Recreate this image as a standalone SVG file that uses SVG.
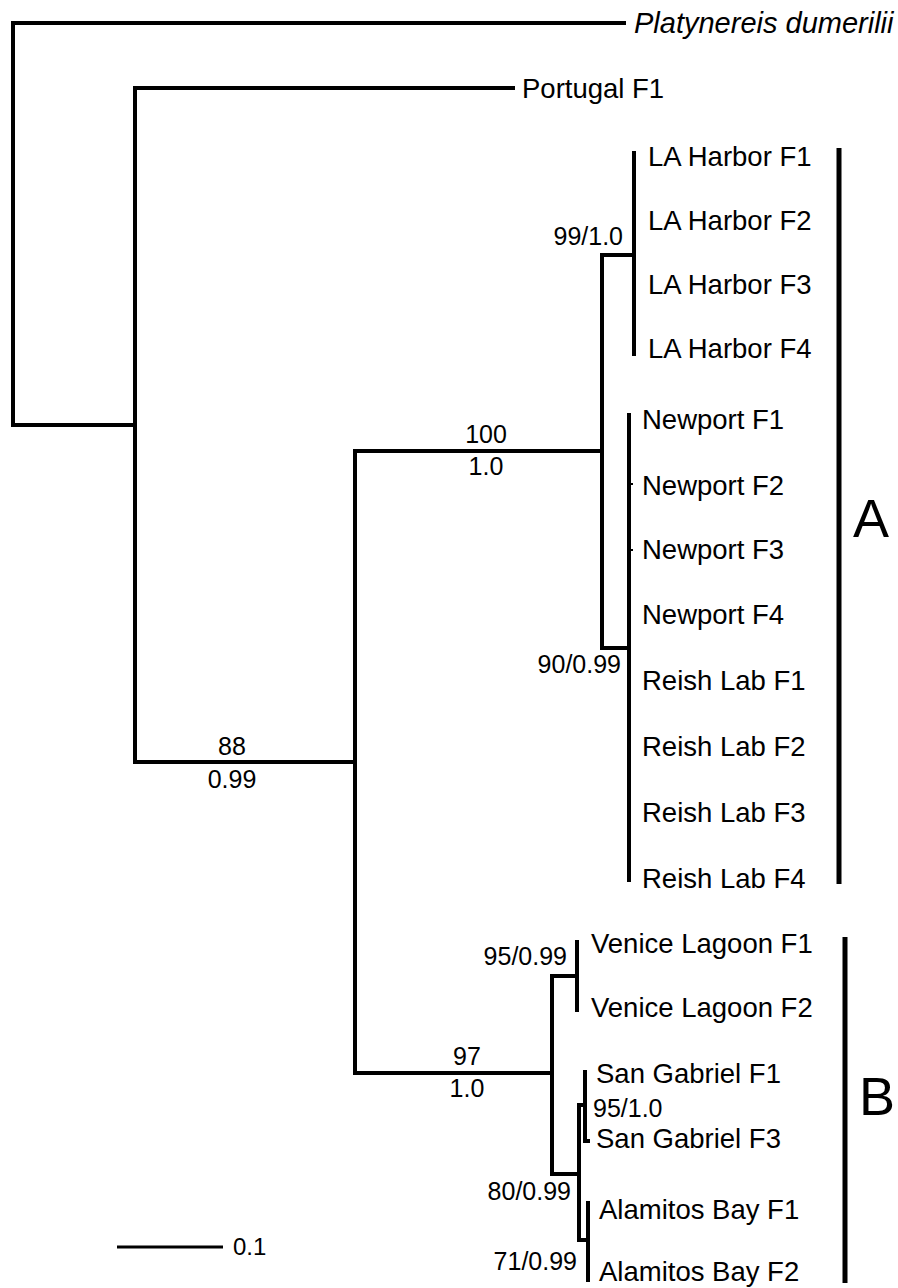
<svg xmlns="http://www.w3.org/2000/svg" width="898" height="1288" viewBox="0 0 898 1288">
<style>
.br{stroke:#000;stroke-width:4;fill:none;stroke-linecap:square}
.bar{stroke:#000;stroke-width:5;fill:none}
.leaf{font-family:"Liberation Sans",Arial,sans-serif;font-size:27.5px;fill:#000}
.it{font-style:italic;font-size:29px}
.sup{font-family:"Liberation Sans",Arial,sans-serif;font-size:25px;fill:#000}
.cl{font-family:"Liberation Sans",Arial,sans-serif;font-size:54px;fill:#000}
.sc{font-family:"Liberation Sans",Arial,sans-serif;font-size:24px;fill:#000}
</style>
<rect width="898" height="1288" fill="#fff"/>
<g id="connectors">
<path class="br" d="M624,23 H13 V425 H135"/>
<path class="br" d="M513,88 H135 V762 H355"/>
<path class="br" d="M602,451 H355 V1073 H552"/>
<path class="br" d="M634,255 H602 V648 H629"/>
<path class="br" d="M634,153 V354"/>
<path class="br" d="M629,415 V880"/>
<path d="M629,484 H633 M629,550 H633" stroke="#000" stroke-width="2"/>
<path class="br" d="M577,976 H552 V1174 H579"/>
<path class="br" d="M577,942 V1010"/>
<path class="br" d="M579,1105 V1240"/>
<path class="br" d="M579,1105 H585"/>
<path class="br" d="M585,1072 V1141 H588"/>
<path class="br" d="M579,1240 H588"/>
<path class="br" d="M588,1203 V1280"/>
</g>
<g id="taxon-platynereis"><text class="leaf it" x="634" y="33">Platynereis dumerilii</text></g>
<g id="taxon-portugal-f1"><text class="leaf" x="522" y="98">Portugal F1</text></g>
<g id="taxon-la-harbor-f1"><text class="leaf" x="648" y="166">LA Harbor F1</text></g>
<g id="taxon-la-harbor-f2"><text class="leaf" x="648" y="230">LA Harbor F2</text></g>
<g id="taxon-la-harbor-f3"><text class="leaf" x="648" y="294">LA Harbor F3</text></g>
<g id="taxon-la-harbor-f4"><text class="leaf" x="648" y="358">LA Harbor F4</text></g>
<g id="taxon-newport-f1"><text class="leaf" x="642" y="429">Newport F1</text></g>
<g id="taxon-newport-f2"><text class="leaf" x="642" y="495">Newport F2</text></g>
<g id="taxon-newport-f3"><text class="leaf" x="642" y="559">Newport F3</text></g>
<g id="taxon-newport-f4"><text class="leaf" x="642" y="624">Newport F4</text></g>
<g id="taxon-reish-lab-f1"><text class="leaf" x="642" y="690">Reish Lab F1</text></g>
<g id="taxon-reish-lab-f2"><text class="leaf" x="642" y="756">Reish Lab F2</text></g>
<g id="taxon-reish-lab-f3"><text class="leaf" x="642" y="822">Reish Lab F3</text></g>
<g id="taxon-reish-lab-f4"><text class="leaf" x="642" y="888">Reish Lab F4</text></g>
<g id="taxon-venice-lagoon-f1"><text class="leaf" x="591" y="953">Venice Lagoon F1</text></g>
<g id="taxon-venice-lagoon-f2"><text class="leaf" x="591" y="1017">Venice Lagoon F2</text></g>
<g id="taxon-san-gabriel-f1"><text class="leaf" x="596" y="1083">San Gabriel F1</text></g>
<g id="taxon-san-gabriel-f3"><text class="leaf" x="596" y="1148">San Gabriel F3</text></g>
<g id="taxon-alamitos-bay-f1"><text class="leaf" x="599" y="1219">Alamitos Bay F1</text></g>
<g id="taxon-alamitos-bay-f2"><text class="leaf" x="599" y="1281">Alamitos Bay F2</text></g>
<g id="support-labels">
<text class="sup" x="623" y="245" text-anchor="end">99/1.0</text>
<text class="sup" x="486" y="443" text-anchor="middle">100</text>
<text class="sup" x="486" y="475" text-anchor="middle">1.0</text>
<text class="sup" x="621" y="673" text-anchor="end">90/0.99</text>
<text class="sup" x="232" y="755" text-anchor="middle">88</text>
<text class="sup" x="232" y="788" text-anchor="middle">0.99</text>
<text class="sup" x="467" y="1065" text-anchor="middle">97</text>
<text class="sup" x="467" y="1097" text-anchor="middle">1.0</text>
<text class="sup" x="567" y="965" text-anchor="end">95/0.99</text>
<text class="sup" x="593" y="1117">95/1.0</text>
<text class="sup" x="571" y="1200" text-anchor="end">80/0.99</text>
<text class="sup" x="577" y="1270" text-anchor="end">71/0.99</text>
</g>
<g id="clade-A">
<path class="bar" d="M839,148 V884"/>
<text class="cl" x="853" y="537">A</text>
</g>
<g id="clade-B">
<path class="bar" d="M845,937 V1283"/>
<text class="cl" x="859" y="1115">B</text>
</g>
<g id="scale-bar">
<path d="M117,1247 H223" stroke="#000" stroke-width="3"/>
<text class="sc" x="233" y="1255">0.1</text>
</g>
</svg>
